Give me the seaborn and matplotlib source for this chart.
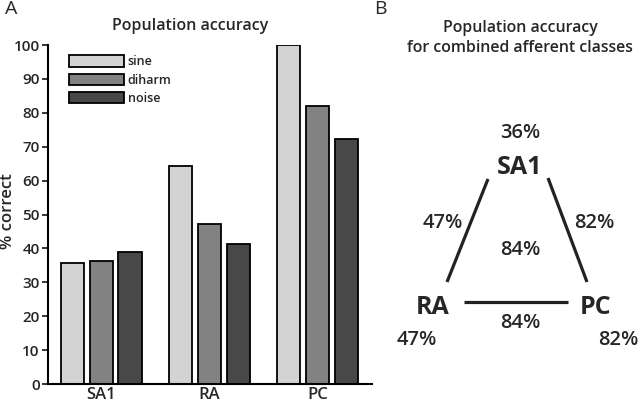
import pandas as pd
import matplotlib
matplotlib.use('Agg')
import matplotlib.pyplot as plt
import seaborn as sns

# data
classes = ['SA1', 'RA', 'PC']
stimuli = ['sine', 'diharm', 'noise']
sine = [35.8, 64.3, 100.0]
diharm = [36.4, 47.1, 82.1]
noise = [38.9, 41.2, 72.4]
shades = ['#d3d3d3', '#828282', '#484848']

# combined afferent classes (panel B)
single_acc = {'SA1': '36%', 'RA': '47%', 'PC': '82%'}
pair_acc = {('SA1', 'RA'): '47%', ('SA1', 'PC'): '82%', ('RA', 'PC'): '84%'}
all_acc = '84%'

sns.set_style('white')
plt.rcParams['font.family'] = ['Open Sans', 'DejaVu Sans']
plt.rcParams['font.weight'] = 'semibold'
plt.rcParams['axes.labelweight'] = 'semibold'

df = pd.DataFrame({
    'cls': classes * 3,
    'stim': [s for s in stimuli for _ in classes],
    'acc': sine + diharm + noise,
})

fig = plt.figure(figsize=(6.4, 4.04), dpi=100)
ax = fig.add_axes([0.075, 0.0495, 0.506, 0.839])
sns.barplot(data=df, x='cls', y='acc', hue='stim', palette=shades,
            edgecolor='black', linewidth=1.3, width=0.8, gap=0.2, ax=ax)
ax.set_xlim(-0.49, 2.5)
ax.set_ylim(0, 100)
ax.set_yticks(range(0, 101, 10))
ax.set_xlabel('')
ax.set_ylabel('% correct', fontsize=12, va='center')
ax.yaxis.set_label_coords(-0.125, 0.51)
sns.despine(ax=ax)
for s in ['left', 'bottom']:
    ax.spines[s].set_linewidth(1.5)
    ax.spines[s].set_color('black')
ax.tick_params(axis='y', direction='out', length=4, width=1.3, labelsize=11, pad=2, left=True)
ax.tick_params(axis='x', length=0, labelsize=12, pad=2)
ax.legend(loc='upper left', bbox_to_anchor=(0.065, 0.97), frameon=False,
          borderaxespad=0, borderpad=0, handlelength=4.4, handleheight=1.05,
          labelspacing=0.42, handletextpad=0.3, fontsize=9)

fig.text(0.008, 0.978, 'A', fontsize=14, fontweight='normal', va='center')
fig.text(0.297, 0.935, 'Population accuracy', fontsize=11.5, ha='center', va='center')

# panel B: triangle diagram in pixel space
ax2 = fig.add_axes([0, 0, 1, 1], facecolor='none')
ax2.set_xlim(0, 640)
ax2.set_ylim(404, 0)
ax2.axis('off')

fig.text(0.584, 0.978, 'B', fontsize=14, fontweight='normal', va='center')
ax2.text(520, 38, 'Population accuracy\nfor combined afferent classes',
         fontsize=11.4, ha='center', va='center', linespacing=1.25)

node_xy = {'SA1': (520, 167), 'RA': (433, 307), 'PC': (596, 307)}
node_acc_xy = {'SA1': (520, 133), 'RA': (417, 340), 'PC': (618, 340)}
edges = {('SA1', 'RA'): ((488, 179), (447, 282)),
         ('SA1', 'PC'): ((548, 178), (587, 282)),
         ('RA', 'PC'): ((464, 302), (568, 302))}
edge_label_xy = {('SA1', 'RA'): (443, 223), ('SA1', 'PC'): (594, 223), ('RA', 'PC'): (520, 323)}

for name, (x, y) in node_xy.items():
    ax2.text(x, y, name, fontsize=18, fontweight='bold', ha='center', va='center')
    lx, ly = node_acc_xy[name]
    ax2.text(lx, ly, single_acc[name], fontsize=14.5, ha='center', va='center')
for key, (p0, p1) in edges.items():
    ax2.plot([p0[0], p1[0]], [p0[1], p1[1]], color='#222222', lw=2.3, solid_capstyle='butt')
    lx, ly = edge_label_xy[key]
    ax2.text(lx, ly, pair_acc[key], fontsize=14.5, ha='center', va='center')
ax2.text(520, 250, all_acc, fontsize=14.5, ha='center', va='center')

fig.savefig('out.png', dpi=100)
